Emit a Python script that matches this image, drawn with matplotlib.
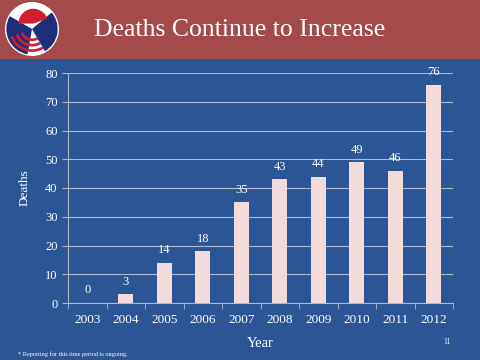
import matplotlib.pyplot as plt
from matplotlib.patches import Rectangle, Circle, Wedge

years = ["2003", "2004", "2005", "2006", "2007", "2008", "2009", "2010", "2011", "2012"]
deaths = [0, 3, 14, 18, 35, 43, 44, 49, 46, 76]
y_ticks = [0, 10, 20, 30, 40, 50, 60, 70, 80]

bg = "#2C5596"
banner = "#A54A4A"
bar_col = "#F2DCDB"
plt.rcParams['font.family'] = ['Liberation Serif', 'DejaVu Serif']

fig = plt.figure(figsize=(4.8, 3.6), dpi=100)
fig.patch.set_facecolor(bg)

# title banner
fig.patches.append(Rectangle((0, 1 - 59 / 360), 1, 59 / 360, transform=fig.transFigure,
                             facecolor=banner, edgecolor="none", zorder=0))
fig.text(0.5, 1 - 30 / 360, "Deaths Continue to Increase", color="white", fontsize=18.5,
         ha="center", va="center")

# rough logo
lax = fig.add_axes([5 / 480, 1 - 56 / 360, 54 / 480, 54 / 360])
lax.set_zorder(5)
lax.set_xlim(-1, 1)
lax.set_ylim(-1, 1)
lax.set_aspect("equal")
lax.axis("off")
lax.add_patch(Circle((0, 0), 1, facecolor="white", edgecolor="none"))
lax.add_patch(Wedge((0, 0), 0.95, -60, 40, facecolor="#1F2E78", edgecolor="none"))
lax.add_patch(Wedge((0, 0), 0.95, 150, 260, facecolor="#1F2E78", edgecolor="none"))
for r in [0.85, 0.65, 0.45]:
    lax.add_patch(Wedge((0, 0), r, 200, 300, width=0.1, facecolor="#D02030", edgecolor="none"))
lax.add_patch(Wedge((0.05, 0.2), 0.55, 20, 180, facecolor="#D02030", edgecolor="none"))

ax = fig.add_axes([68 / 480, 1 - 303 / 360, 385 / 480, 230 / 360])
ax.set_zorder(3)
ax.set_facecolor(bg)
x = range(len(years))
bars = ax.bar(x, deaths, width=0.4, color=bar_col, zorder=3)
for xi, v in zip(x, deaths):
    ax.text(xi, v + 2.3, str(v), color="white", ha="center", va="bottom", fontsize=9)

ax.set_xlim(-0.5, len(years) - 0.5)
ax.set_ylim(0, 80)
ax.set_yticks(y_ticks)
ax.set_xticks(list(x))
ax.set_xticklabels(years)
ax.set_xticks([i - 0.5 for i in range(len(years) + 1)], minor=True)
ax.tick_params(axis="x", which="major", length=0, colors="white", labelsize=9.5, pad=8)
ax.tick_params(axis="x", which="minor", length=4, color="#B0B8CC")
ax.tick_params(axis="y", length=4, color="#B0B8CC", colors="white", labelsize=9)
ax.grid(axis="y", color="#B0B8CC", linewidth=0.8, zorder=0)
for s in ["top", "right"]:
    ax.spines[s].set_visible(False)
ax.spines["left"].set_color("#B0B8CC")
ax.spines["bottom"].set_color("#B0B8CC")
ax.set_ylabel("Deaths", color="white", fontsize=9.5, labelpad=10)
ax.set_xlabel("Year", color="white", fontsize=10.5, labelpad=8)

fig.text(18 / 480, 1 - 354 / 360, "* Reporting for this time period is ongoing.", color="white",
         fontsize=4.5, ha="left", va="center")
fig.text(447 / 480, 1 - 342 / 360, "11", color="white", fontsize=5.5, ha="center", va="center")

fig.savefig("out.png", dpi=100, facecolor=bg)
